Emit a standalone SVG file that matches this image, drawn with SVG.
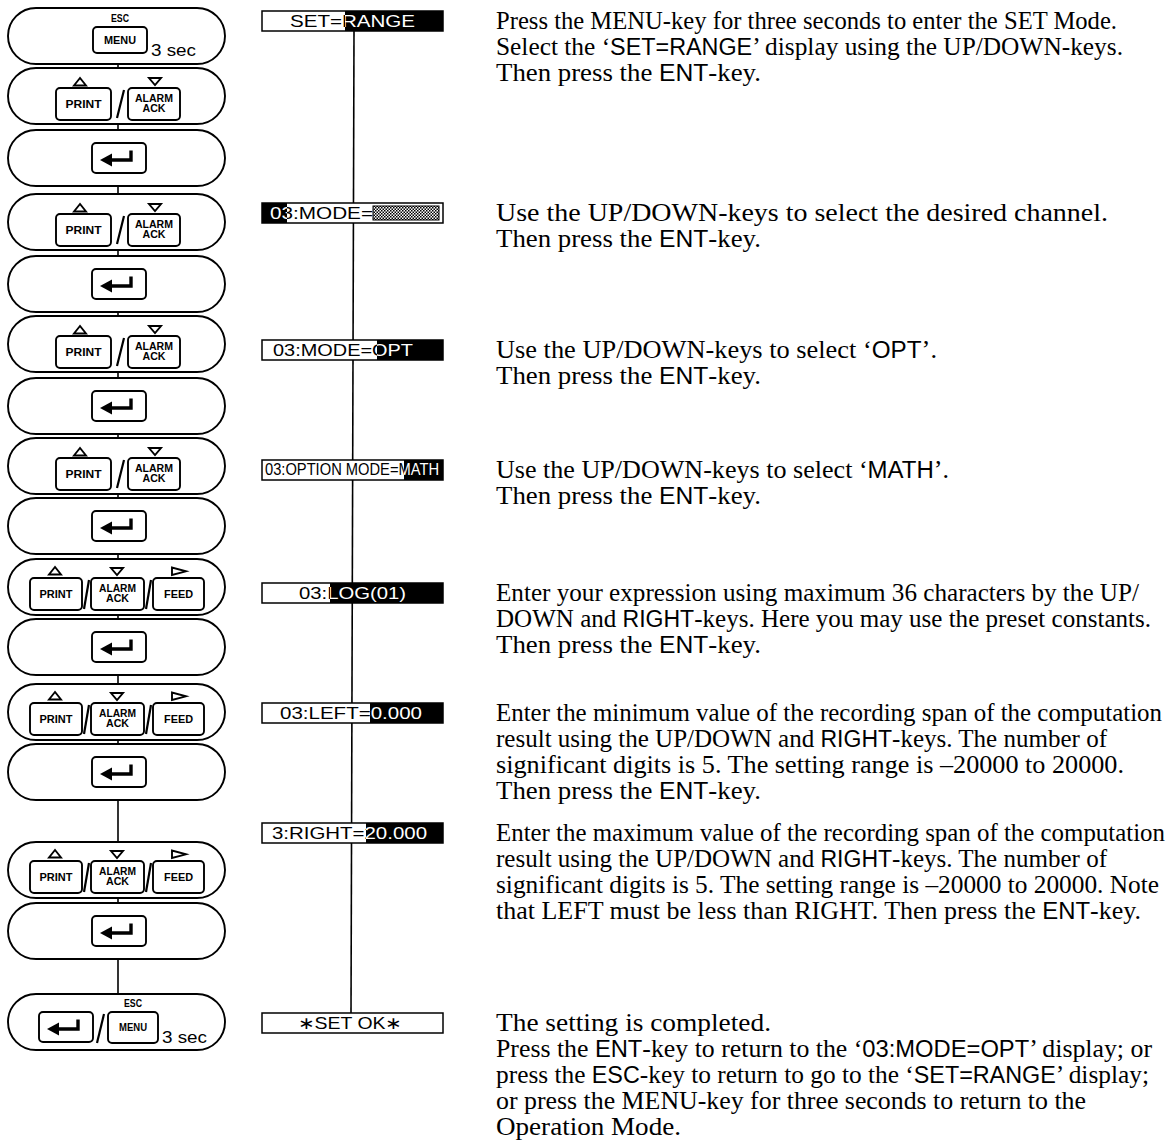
<svg xmlns="http://www.w3.org/2000/svg" xmlns:xlink="http://www.w3.org/1999/xlink" width="1173" height="1144" viewBox="0 0 1173 1144">
<style>
.pill{fill:#fff;stroke:#000;stroke-width:1.9}
.key{fill:#fff;stroke:#000;stroke-width:1.9}
.kt{font-family:"Liberation Sans",Arial,sans-serif;font-weight:bold;font-size:10.5px;text-anchor:middle;fill:#000}
.tri{fill:#fff;stroke:#000;stroke-width:1.9;stroke-linejoin:miter}
.sl{stroke:#000;stroke-width:2.2}
.sec{font-family:"Liberation Sans",Arial,sans-serif;font-size:16px;fill:#000}
.conn{stroke:#000;stroke-width:1.6;fill:none}
.disp{fill:#fff;stroke:#000;stroke-width:1.5}
.inv{fill:#000}
.dt{font-family:"Liberation Sans",Arial,sans-serif;font-size:16.5px}
.blk{fill:#000}
.wht{fill:#fff}
.desc{font-family:"Liberation Serif","Times New Roman",serif;font-size:25px;fill:#000}
.ss{font-family:"Liberation Sans",Arial,sans-serif;font-size:23px}
</style>
<defs>
<pattern id="dots" width="3" height="3" patternUnits="userSpaceOnUse">
<rect width="3" height="3" fill="#fff"/>
<rect width="1.5" height="1.5" fill="#000"/>
<rect x="1.5" y="1.5" width="1.5" height="1.5" fill="#000"/>
</pattern>
<g id="enterKey">
<rect class="key" x="0" y="0" width="54" height="30" rx="4"/>
<path d="M39 7.5 V17 H18" fill="none" stroke="#000" stroke-width="3.4"/>
<polygon points="8,17 20,10.5 20,23.5" fill="#000"/>
</g>
<g id="twoKeys">
<polygon class="tri" points="80,10 74,17.5 86,17.5"/>
<polygon class="tri" points="149,10 161,10 155,17"/>
<rect class="key" x="56" y="20" width="55" height="32" rx="4"/>
<text class="kt" x="83.5" y="40" textLength="36" lengthAdjust="spacingAndGlyphs">PRINT</text>
<line class="sl" x1="117" y1="50" x2="124" y2="22"/>
<rect class="key" x="128" y="20" width="52" height="32" rx="4"/>
<text class="kt" x="154" y="34" textLength="38" lengthAdjust="spacingAndGlyphs">ALARM</text>
<text class="kt" x="154" y="44" textLength="23" lengthAdjust="spacingAndGlyphs">ACK</text>
</g>
<g id="threeKeys">
<polygon class="tri" points="55,8 49,15.5 61,15.5"/>
<polygon class="tri" points="111,9 123,9 117,16"/>
<polygon class="tri" points="172,8.5 172,16 186,12.3"/>
<rect class="key" x="30" y="19" width="52" height="32" rx="4"/>
<text class="kt" x="56" y="39" textLength="33" lengthAdjust="spacingAndGlyphs">PRINT</text>
<line class="sl" x1="84" y1="50" x2="89" y2="21" stroke-width="1.5"/>
<rect class="key" x="91" y="19" width="53" height="32" rx="4"/>
<text class="kt" x="117.5" y="33" textLength="37" lengthAdjust="spacingAndGlyphs">ALARM</text>
<text class="kt" x="117.5" y="43" textLength="23" lengthAdjust="spacingAndGlyphs">ACK</text>
<line class="sl" x1="146" y1="50" x2="151" y2="21" stroke-width="1.5"/>
<rect class="key" x="153" y="19" width="51" height="32" rx="4"/>
<text class="kt" x="178.5" y="39" textLength="29" lengthAdjust="spacingAndGlyphs">FEED</text>
</g>
<clipPath id="c1"><rect x="345" y="11" width="98" height="20"/></clipPath>
<clipPath id="c2"><rect x="262" y="203" width="25" height="20"/></clipPath>
<clipPath id="c3"><rect x="377" y="340" width="66" height="20"/></clipPath>
<clipPath id="c4"><rect x="404" y="460" width="39" height="20"/></clipPath>
<clipPath id="c5"><rect x="330" y="583" width="113" height="20"/></clipPath>
<clipPath id="c6"><rect x="370" y="703" width="73" height="20"/></clipPath>
<clipPath id="c7"><rect x="366" y="823" width="77" height="20"/></clipPath>
</defs>

<g id="connectors">
<line class="conn" x1="354" y1="31" x2="351" y2="1013"/>
<line class="conn" x1="118" y1="64" x2="118" y2="68"/>
<line class="conn" x1="118" y1="124" x2="118" y2="130"/>
<line class="conn" x1="118" y1="186" x2="118" y2="194"/>
<line class="conn" x1="118" y1="250" x2="118" y2="256"/>
<line class="conn" x1="118" y1="312" x2="118" y2="316"/>
<line class="conn" x1="118" y1="372" x2="118" y2="378"/>
<line class="conn" x1="118" y1="434" x2="118" y2="438"/>
<line class="conn" x1="118" y1="494" x2="118" y2="498"/>
<line class="conn" x1="118" y1="554" x2="118" y2="559"/>
<line class="conn" x1="118" y1="615" x2="118" y2="619"/>
<line class="conn" x1="118" y1="675" x2="118" y2="684"/>
<line class="conn" x1="118" y1="740" x2="118" y2="744"/>
<line class="conn" x1="118" y1="800" x2="118" y2="842"/>
<line class="conn" x1="118" y1="898" x2="118" y2="903"/>
<line class="conn" x1="118" y1="959" x2="118" y2="994"/>
</g>

<g id="pill1">
<rect class="pill" x="8" y="8" width="217" height="56" rx="28"/>
<text class="kt" x="120" y="22" font-size="9.5" textLength="18" lengthAdjust="spacingAndGlyphs">ESC</text>
<rect class="key" x="93" y="27" width="54" height="26" rx="4"/>
<text class="kt" x="120" y="44" font-size="9.5" textLength="32" lengthAdjust="spacingAndGlyphs">MENU</text>
<text class="sec" x="151" y="56" textLength="45" lengthAdjust="spacingAndGlyphs">3 sec</text>
</g>
<g id="pill2"><rect class="pill" x="8" y="68" width="217" height="56" rx="28"/><use xlink:href="#twoKeys" y="68"/></g>
<g id="pill3"><rect class="pill" x="8" y="130" width="217" height="56" rx="28"/><use xlink:href="#enterKey" x="92" y="143"/></g>
<g id="pill4"><rect class="pill" x="8" y="194" width="217" height="56" rx="28"/><use xlink:href="#twoKeys" y="194"/></g>
<g id="pill5"><rect class="pill" x="8" y="256" width="217" height="56" rx="28"/><use xlink:href="#enterKey" x="92" y="269"/></g>
<g id="pill6"><rect class="pill" x="8" y="316" width="217" height="56" rx="28"/><use xlink:href="#twoKeys" y="316"/></g>
<g id="pill7"><rect class="pill" x="8" y="378" width="217" height="56" rx="28"/><use xlink:href="#enterKey" x="92" y="391"/></g>
<g id="pill8"><rect class="pill" x="8" y="438" width="217" height="56" rx="28"/><use xlink:href="#twoKeys" y="438"/></g>
<g id="pill9"><rect class="pill" x="8" y="498" width="217" height="56" rx="28"/><use xlink:href="#enterKey" x="92" y="511"/></g>
<g id="pill10"><rect class="pill" x="8" y="559" width="217" height="56" rx="28"/><use xlink:href="#threeKeys" y="559"/></g>
<g id="pill11"><rect class="pill" x="8" y="619" width="217" height="56" rx="28"/><use xlink:href="#enterKey" x="92" y="632"/></g>
<g id="pill12"><rect class="pill" x="8" y="684" width="217" height="56" rx="28"/><use xlink:href="#threeKeys" y="684"/></g>
<g id="pill13"><rect class="pill" x="8" y="744" width="217" height="56" rx="28"/><use xlink:href="#enterKey" x="92" y="757"/></g>
<g id="pill14"><rect class="pill" x="8" y="842" width="217" height="56" rx="28"/><use xlink:href="#threeKeys" y="842"/></g>
<g id="pill15"><rect class="pill" x="8" y="903" width="217" height="56" rx="28"/><use xlink:href="#enterKey" x="92" y="916"/></g>
<g id="pill16">
<rect class="pill" x="8" y="994" width="217" height="56" rx="28"/>
<use xlink:href="#enterKey" x="39" y="1012"/>
<line class="sl" x1="97" y1="1043" x2="104" y2="1014"/>
<text class="kt" x="133" y="1007" font-size="9.5" textLength="18" lengthAdjust="spacingAndGlyphs">ESC</text>
<rect class="key" x="108" y="1012" width="50" height="31" rx="4"/>
<text class="kt" x="133" y="1031" font-size="9" textLength="28" lengthAdjust="spacingAndGlyphs">MENU</text>
<text class="sec" x="162" y="1043" textLength="45" lengthAdjust="spacingAndGlyphs">3 sec</text>
</g>

<g id="disp1">
<rect class="disp" x="262" y="11" width="181" height="20"/>
<rect class="inv" x="345" y="11" width="98" height="20"/>
<text class="dt blk" x="290" y="27" textLength="125" lengthAdjust="spacingAndGlyphs">SET=RANGE</text>
<text class="dt wht" x="290" y="27" textLength="125" lengthAdjust="spacingAndGlyphs" clip-path="url(#c1)">SET=RANGE</text>
</g>
<g id="disp2">
<rect class="disp" x="262" y="203" width="181" height="20"/>
<rect class="inv" x="262" y="203" width="25" height="20"/>
<rect x="373" y="206" width="66" height="14" fill="url(#dots)" stroke="#000" stroke-width="1"/>
<text class="dt blk" x="270" y="219" textLength="103" lengthAdjust="spacingAndGlyphs">03:MODE=</text>
<text class="dt wht" x="270" y="219" textLength="103" lengthAdjust="spacingAndGlyphs" clip-path="url(#c2)">03:MODE=</text>
</g>
<g id="disp3">
<rect class="disp" x="262" y="340" width="181" height="20"/>
<rect class="inv" x="377" y="340" width="66" height="20"/>
<text class="dt blk" x="273" y="356" textLength="140" lengthAdjust="spacingAndGlyphs">03:MODE=OPT</text>
<text class="dt wht" x="273" y="356" textLength="140" lengthAdjust="spacingAndGlyphs" clip-path="url(#c3)">03:MODE=OPT</text>
</g>
<g id="disp4">
<rect class="disp" x="262" y="460" width="181" height="20"/>
<rect class="inv" x="404" y="460" width="39" height="20"/>
<text class="dt blk" x="265" y="474.5" font-size="11.5" textLength="174" lengthAdjust="spacingAndGlyphs">03:OPTION MODE=MATH</text>
<text class="dt wht" x="265" y="474.5" font-size="11.5" textLength="174" lengthAdjust="spacingAndGlyphs" clip-path="url(#c4)">03:OPTION MODE=MATH</text>
</g>
<g id="disp5">
<rect class="disp" x="262" y="583" width="181" height="20"/>
<rect class="inv" x="330" y="583" width="113" height="20"/>
<text class="dt blk" x="299" y="599" textLength="107" lengthAdjust="spacingAndGlyphs">03:LOG(01)</text>
<text class="dt wht" x="299" y="599" textLength="107" lengthAdjust="spacingAndGlyphs" clip-path="url(#c5)">03:LOG(01)</text>
</g>
<g id="disp6">
<rect class="disp" x="262" y="703" width="181" height="20"/>
<rect class="inv" x="370" y="703" width="73" height="20"/>
<text class="dt blk" x="280" y="719" textLength="142" lengthAdjust="spacingAndGlyphs">03:LEFT=0.000</text>
<text class="dt wht" x="280" y="719" textLength="142" lengthAdjust="spacingAndGlyphs" clip-path="url(#c6)">03:LEFT=0.000</text>
</g>
<g id="disp7">
<rect class="disp" x="262" y="823" width="181" height="20"/>
<rect class="inv" x="366" y="823" width="77" height="20"/>
<text class="dt blk" x="272" y="839" textLength="155" lengthAdjust="spacingAndGlyphs">3:RIGHT=20.000</text>
<text class="dt wht" x="272" y="839" textLength="155" lengthAdjust="spacingAndGlyphs" clip-path="url(#c7)">3:RIGHT=20.000</text>
</g>
<g id="disp8">
<rect class="disp" x="262" y="1013" width="181" height="20"/>
<text class="dt blk" x="298" y="1029" textLength="104" lengthAdjust="spacingAndGlyphs">∗SET OK∗</text>
</g>

<g id="desc1" class="desc">
<text x="496" y="29" textLength="621" lengthAdjust="spacingAndGlyphs">Press the MENU-key for three seconds to enter the SET Mode.</text>
<text x="496" y="55" textLength="627" lengthAdjust="spacingAndGlyphs">Select the ‘<tspan class="ss">SET=RANGE</tspan>’ display using the UP/DOWN-keys.</text>
<text x="496" y="81" textLength="265" lengthAdjust="spacingAndGlyphs">Then press the <tspan class="ss">ENT</tspan>-key.</text>
</g>
<g id="desc2" class="desc">
<text x="496" y="221" textLength="612" lengthAdjust="spacingAndGlyphs">Use the UP/DOWN-keys to select the desired channel.</text>
<text x="496" y="247" textLength="265" lengthAdjust="spacingAndGlyphs">Then press the <tspan class="ss">ENT</tspan>-key.</text>
</g>
<g id="desc3" class="desc">
<text x="496" y="358" textLength="441" lengthAdjust="spacingAndGlyphs">Use the UP/DOWN-keys to select ‘<tspan class="ss">OPT</tspan>’.</text>
<text x="496" y="384" textLength="265" lengthAdjust="spacingAndGlyphs">Then press the <tspan class="ss">ENT</tspan>-key.</text>
</g>
<g id="desc4" class="desc">
<text x="496" y="478" textLength="453" lengthAdjust="spacingAndGlyphs">Use the UP/DOWN-keys to select ‘<tspan class="ss">MATH</tspan>’.</text>
<text x="496" y="504" textLength="265" lengthAdjust="spacingAndGlyphs">Then press the <tspan class="ss">ENT</tspan>-key.</text>
</g>
<g id="desc5" class="desc">
<text x="496" y="601" textLength="643" lengthAdjust="spacingAndGlyphs">Enter your expression using maximum 36 characters by the UP/</text>
<text x="496" y="627" textLength="655" lengthAdjust="spacingAndGlyphs">DOWN and <tspan class="ss">RIGHT</tspan>-keys. Here you may use the preset constants.</text>
<text x="496" y="653" textLength="265" lengthAdjust="spacingAndGlyphs">Then press the <tspan class="ss">ENT</tspan>-key.</text>
</g>
<g id="desc6" class="desc">
<text x="496" y="721" textLength="666" lengthAdjust="spacingAndGlyphs">Enter the minimum value of the recording span of the computation</text>
<text x="496" y="747" textLength="611" lengthAdjust="spacingAndGlyphs">result using the UP/DOWN and <tspan class="ss">RIGHT</tspan>-keys. The number of</text>
<text x="496" y="773" textLength="628" lengthAdjust="spacingAndGlyphs">significant digits is 5. The setting range is –20000 to 20000.</text>
<text x="496" y="799" textLength="265" lengthAdjust="spacingAndGlyphs">Then press the <tspan class="ss">ENT</tspan>-key.</text>
</g>
<g id="desc7" class="desc">
<text x="496" y="841" textLength="669" lengthAdjust="spacingAndGlyphs">Enter the maximum value of the recording span of the computation</text>
<text x="496" y="867" textLength="611" lengthAdjust="spacingAndGlyphs">result using the UP/DOWN and <tspan class="ss">RIGHT</tspan>-keys. The number of</text>
<text x="496" y="893" textLength="663" lengthAdjust="spacingAndGlyphs">significant digits is 5. The setting range is –20000 to 20000. Note</text>
<text x="496" y="919" textLength="645" lengthAdjust="spacingAndGlyphs">that LEFT must be less than RIGHT. Then press the <tspan class="ss">ENT</tspan>-key.</text>
</g>
<g id="desc8" class="desc">
<text x="496" y="1031" textLength="275" lengthAdjust="spacingAndGlyphs">The setting is completed.</text>
<text x="496" y="1057" textLength="656" lengthAdjust="spacingAndGlyphs">Press the <tspan class="ss">ENT</tspan>-key to return to the ‘<tspan class="ss">03:MODE=OPT</tspan>’ display; or</text>
<text x="496" y="1083" textLength="653" lengthAdjust="spacingAndGlyphs">press the <tspan class="ss">ESC</tspan>-key to return to go to the ‘<tspan class="ss">SET=RANGE</tspan>’ display;</text>
<text x="496" y="1109" textLength="590" lengthAdjust="spacingAndGlyphs">or press the MENU-key for three seconds to return to the</text>
<text x="496" y="1135" textLength="185" lengthAdjust="spacingAndGlyphs">Operation Mode.</text>
</g>
</svg>
